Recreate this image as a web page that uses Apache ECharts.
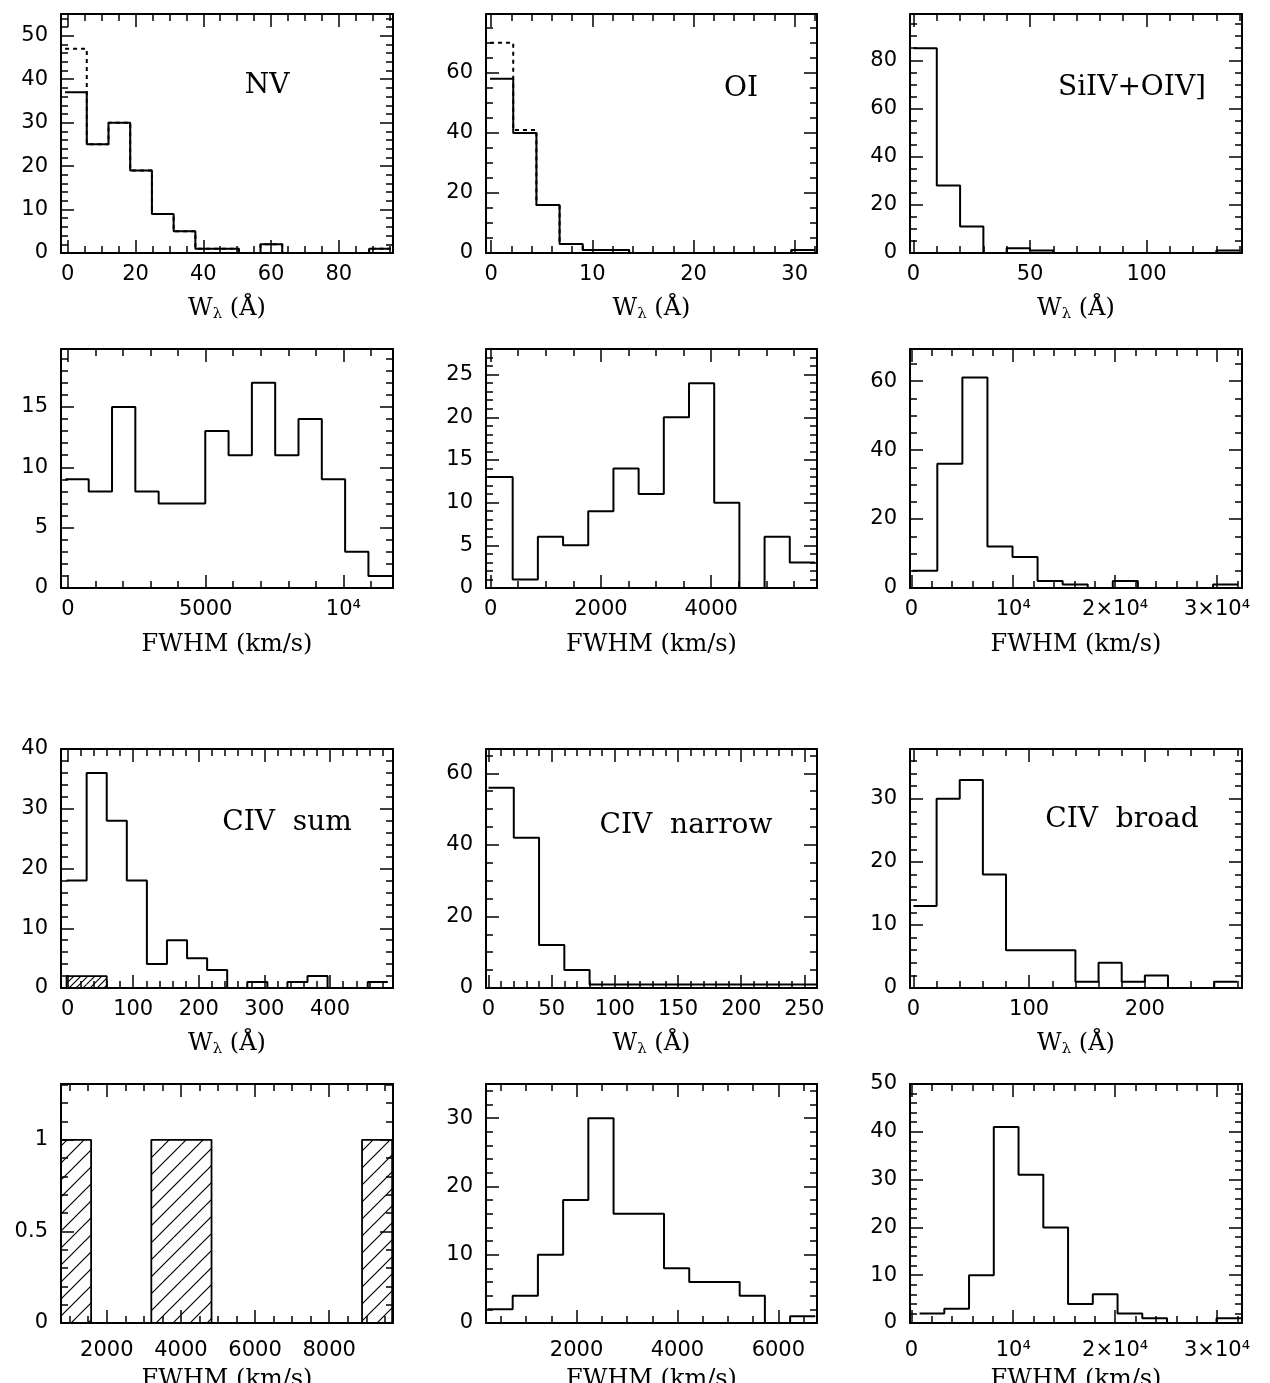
<!DOCTYPE html>
<html>
<head>
<meta charset="utf-8">
<title>Line width histograms</title>
<script src="https://cdn.jsdelivr.net/npm/echarts@6/dist/echarts.min.js"></script>
<style>
  html, body { margin: 0; padding: 0; background: #fff; }
  #chart { width: 1270px; height: 1383px; }
</style>
</head>
<body>
<div id="chart"></div>
<script>
// counts per bin
const nvW          = [37, 25, 30, 19, 9, 5, 1, 1, 0, 2, 0, 0, 0, 0, 1]
const nvWAll       = [47, 25, 30, 19, 9, 5, 1, 1, 0, 2, 0, 0, 0, 0, 1]
const oiW          = [58, 40, 16, 3, 1, 1, 0, 0, 0, 0, 0, 0, 0, 1]
const oiWAll       = [70, 41, 16, 3, 1, 1, 0, 0, 0, 0, 0, 0, 0, 1]
const siivW        = [85, 28, 11, 0, 2, 1, 0, 0, 0, 0, 0, 0, 0, 1]
const nvFwhm       = [9, 8, 15, 8, 7, 7, 13, 11, 17, 11, 14, 9, 3, 1]
const oiFwhm       = [13, 1, 6, 5, 9, 14, 11, 20, 24, 10, 0, 6, 3]
const siivFwhm     = [5, 36, 61, 12, 9, 2, 1, 0, 2, 0, 0, 0, 1]
const civSumW      = [18, 36, 28, 18, 4, 8, 5, 3, 0, 1, 0, 1, 2, 0, 0, 1]
const civSumWHatch = [2, 2]
const civNarrowW   = [56, 42, 12, 5, 1, 1, 1, 1, 1, 1, 1, 1, 1]
const civBroadW    = [13, 30, 33, 18, 6, 6, 6, 1, 4, 1, 2, 0, 0, 1]
const civSumFwhm   = [1, 0, 0, 1, 1, 0, 0, 0, 0, 0, 1]
const civNarrowFwhm = [2, 4, 10, 18, 30, 16, 16, 8, 6, 6, 4, 0, 1]
const civBroadFwhm = [2, 3, 10, 41, 31, 20, 4, 6, 2, 1, 0, 0, 1]

// bins: [first edge, bin width]
const nvWBins = [-0.8, 6.41]
const oiWBins = [-0.1, 2.29]
const siivWBins = [0, 10]
const nvFwhmBins = [-90, 846]
const oiFwhmBins = [-58, 457]
const siivFwhmBins = [90, 2460]
const civSumWBins = [-1.5, 30.6]
const civNarrowWBins = [0, 20]
const civBroadWBins = [0, 20]
const civSumFwhmBins = [765, 812]
const civNarrowFwhmBins = [233, 500]
const civBroadFwhmBins = [806, 2429]

// tick labels
const nvWXTicks = [0, 20, 40, 60, 80]
const nvWYTicks = [0, 10, 20, 30, 40, 50]
const oiWXTicks = [0, 10, 20, 30]
const oiWYTicks = [0, 20, 40, 60]
const siivWXTicks = [0, 50, 100]
const siivWYTicks = [0, 20, 40, 60, 80]
const nvFwhmXTicks = [0, 5000, 10000]
const nvFwhmYTicks = [0, 5, 10, 15]
const oiFwhmXTicks = [0, 2000, 4000]
const oiFwhmYTicks = [0, 5, 10, 15, 20, 25]
const siivFwhmXTicks = [0, 10000, 20000, 30000]
const siivFwhmYTicks = [0, 20, 40, 60]
const civSumWXTicks = [0, 100, 200, 300, 400]
const civSumWYTicks = [0, 10, 20, 30, 40]
const civNarrowWXTicks = [0, 50, 100, 150, 200, 250]
const civNarrowWYTicks = [0, 20, 40, 60]
const civBroadWXTicks = [0, 100, 200]
const civBroadWYTicks = [0, 10, 20, 30]
const civSumFwhmXTicks = [2000, 4000, 6000, 8000]
const civSumFwhmYTicks = [0, 0.5, 1]
const civNarrowFwhmXTicks = [2000, 4000, 6000]
const civNarrowFwhmYTicks = [0, 10, 20, 30]
const civBroadFwhmXTicks = [0, 10000, 20000, 30000]
const civBroadFwhmYTicks = [0, 10, 20, 30, 40, 50]

const wName = 'W{s|λ} (Å)'
const fName = 'FWHM (km/s)'

const panels = [
  { row: 0, col: 0, x: [-2, 96], xt: nvWXTicks, xm: 5, y: [0, 55], yt: nvWYTicks, ym: 2, bins: nvWBins, counts: nvW, dashed: nvWAll, label: 'NV', at: [267, 86], name: wName },
  { row: 0, col: 1, x: [-0.5, 32.2], xt: oiWXTicks, xm: 2, y: [0, 79.6], yt: oiWYTicks, ym: 5, bins: oiWBins, counts: oiW, dashed: oiWAll, label: 'OI', at: [741, 89], name: wName },
  { row: 0, col: 2, x: [-1.5, 141], xt: siivWXTicks, xm: 10, y: [0, 99.2], yt: siivWYTicks, ym: 5, bins: siivWBins, counts: siivW, label: 'SiIV+OIV]', at: [1132, 88], name: wName },
  { row: 1, col: 0, x: [-250, 11800], xt: nvFwhmXTicks, xm: 1000, y: [0, 19.8], yt: nvFwhmYTicks, ym: 1, bins: nvFwhmBins, counts: nvFwhm, name: fName },
  { row: 1, col: 1, x: [-85, 5920], xt: oiFwhmXTicks, xm: 500, y: [0, 28], yt: oiFwhmYTicks, ym: 1, bins: oiFwhmBins, counts: oiFwhm, name: fName },
  { row: 1, col: 2, x: [-130, 32450], xt: siivFwhmXTicks, xm: 2000, y: [0, 69.3], yt: siivFwhmYTicks, ym: 5, bins: siivFwhmBins, counts: siivFwhm, name: fName },
  { row: 2, col: 0, x: [-10, 496], xt: civSumWXTicks, xm: 20, y: [0, 40], yt: civSumWYTicks, ym: 2, bins: civSumWBins, counts: civSumW, hatch: civSumWHatch, hatchSize: 7, label: 'CIV  sum', at: [287, 823], name: wName },
  { row: 2, col: 1, x: [-2, 260], xt: civNarrowWXTicks, xm: 10, y: [0, 66.8], yt: civNarrowWYTicks, ym: 5, bins: civNarrowWBins, counts: civNarrowW, label: 'CIV  narrow', at: [686, 826], name: wName },
  { row: 2, col: 2, x: [-3, 284], xt: civBroadWXTicks, xm: 20, y: [0, 37.9], yt: civBroadWYTicks, ym: 2, bins: civBroadWBins, counts: civBroadW, label: 'CIV  broad', at: [1122, 820], name: wName },
  { row: 3, col: 0, x: [765, 9720], xt: civSumFwhmXTicks, xm: 500, y: [0, 1.305], yt: civSumFwhmYTicks, ym: 0.1, bins: civSumFwhmBins, hatch: civSumFwhm, hatchSize: 17, name: fName },
  { row: 3, col: 1, x: [204, 6766], xt: civNarrowFwhmXTicks, xm: 500, y: [0, 35], yt: civNarrowFwhmYTicks, ym: 2, bins: civNarrowFwhmBins, counts: civNarrowFwhm, name: fName },
  { row: 3, col: 2, x: [-130, 32450], xt: civBroadFwhmXTicks, xm: 2000, y: [0, 50], yt: civBroadFwhmYTicks, ym: 2, bins: civBroadFwhmBins, counts: civBroadFwhm, name: fName }
]

const colLeft = [61, 486, 910]
const colRight = [393, 817, 1242]
const rowTop = [14, 349, 749, 1084]
const rowBottom = [253, 588, 988, 1323]

const numFont = 'DejaVu Sans'
const textFont = 'DejaVu Serif'

const fmt = (v) => {
  if (v === 10000) return '10⁴'
  if (v >= 20000 && v % 10000 === 0) return (v / 10000) + '×10⁴'
  return String(v)
}

const minorTicks = (range, step, majors) => {
  const out = []
  for (let v = Math.ceil(range[0] / step) * step; v <= range[1] + 1e-9; v += step) {
    const r = Math.round(v * 1000) / 1000
    if (!majors.some(m => Math.abs(m - r) < 1e-6)) out.push(r)
  }
  return out
}

const hatchPattern = (size) => {
  const c = document.createElement('canvas')
  c.width = c.height = size
  const g = c.getContext('2d')
  g.strokeStyle = '#000'
  g.lineWidth = 1.2
  g.beginPath()
  g.moveTo(-1, 1); g.lineTo(1, -1)
  g.moveTo(0, size); g.lineTo(size, 0)
  g.moveTo(size - 1, size + 1); g.lineTo(size + 1, size - 1)
  g.stroke()
  return { image: c, repeat: 'repeat' }
}

const stepLine = (bins, counts) => {
  const pts = []
  counts.forEach((c, k) => {
    pts.push([bins[0] + k * bins[1], c], [bins[0] + (k + 1) * bins[1], c])
  })
  return pts
}

const makeAxis = (range, gridIndex, pos, ticks, len, showLine, label) => ({
  type: 'value',
  gridIndex,
  position: pos,
  min: range[0],
  max: range[1],
  axisLine: { show: showLine, onZero: false, lineStyle: { color: '#000', width: 2 } },
  axisTick: { show: true, inside: true, length: len, customValues: ticks, lineStyle: { color: '#000', width: 1.5 } },
  axisLabel: label || { show: false },
  splitLine: { show: false },
  minorTick: { show: false },
  minorSplitLine: { show: false }
})

const grid = []
const xAxis = []
const yAxis = []
const series = []
const graphic = []

panels.forEach((p) => {
  const box = {
    left: colLeft[p.col],
    top: rowTop[p.row],
    width: colRight[p.col] - colLeft[p.col],
    height: rowBottom[p.row] - rowTop[p.row],
    containLabel: false,
    outerBoundsMode: 'none'
  }
  const gMain = grid.length
  grid.push({ ...box }, { ...box })
  const gMinor = gMain + 1
  const xMinor = minorTicks(p.x, p.xm, p.xt)
  const yMinor = minorTicks(p.y, p.ym, p.yt)

  const xi = xAxis.length
  const yi = yAxis.length
  const bottomAxis = makeAxis(p.x, gMain, 'bottom', p.xt, 13, true, {
    customValues: p.xt, formatter: fmt, margin: p.row === 3 ? 17 : 11,
    color: '#000', fontSize: 21, fontFamily: numFont
  })
  bottomAxis.name = p.name
  bottomAxis.nameLocation = 'middle'
  bottomAxis.nameGap = p.name === wName ? 42 : 45
  bottomAxis.nameMoveOverlap = false
  bottomAxis.nameTextStyle = {
    color: '#000', fontSize: 24, fontFamily: textFont,
    rich: { s: { fontSize: 15, fontFamily: textFont, color: '#000', padding: [12, 0, 0, 0] } }
  }
  xAxis.push(
    bottomAxis,
    makeAxis(p.x, gMain, 'top', p.xt, 13, true),
    makeAxis(p.x, gMinor, 'bottom', xMinor, 7, false),
    makeAxis(p.x, gMinor, 'top', xMinor, 7, false)
  )
  yAxis.push(
    makeAxis(p.y, gMain, 'left', p.yt, 13, true, {
      customValues: p.yt, formatter: fmt, margin: 13,
      color: '#000', fontSize: 21, fontFamily: numFont
    }),
    makeAxis(p.y, gMain, 'right', p.yt, 13, true),
    makeAxis(p.y, gMinor, 'left', yMinor, 7, false),
    makeAxis(p.y, gMinor, 'right', yMinor, 7, false)
  )

  if (p.hatch) {
    // hatched fill per bin, outline drawn as one step line so touching bins merge
    const pattern = hatchPattern(p.hatchSize)
    series.push({
      type: 'custom',
      xAxisIndex: xi,
      yAxisIndex: yi,
      silent: true,
      animation: false,
      clip: true,
      z: 2,
      encode: { x: [0, 1], y: 2 },
      data: p.hatch.map((c, k) => [p.bins[0] + k * p.bins[1], p.bins[0] + (k + 1) * p.bins[1], c]),
      renderItem: (params, api) => {
        const h = api.value(2)
        if (!h) return null
        const a = api.coord([api.value(0), h])
        const b = api.coord([api.value(1), 0])
        return {
          type: 'rect',
          shape: { x: a[0], y: a[1], width: b[0] - a[0], height: b[1] - a[1] },
          style: { fill: pattern, stroke: null }
        }
      }
    })
    const outline = stepLine(p.bins, p.hatch)
    outline.unshift([p.bins[0], 0])
    outline.push([p.bins[0] + p.hatch.length * p.bins[1], 0])
    series.push({
      type: 'line', xAxisIndex: xi, yAxisIndex: yi,
      data: outline,
      symbol: 'none', silent: true, animation: false, clip: true, z: 3,
      lineStyle: { color: '#000', width: 1.8 }
    })
  }
  if (p.dashed) {
    series.push({
      type: 'line', xAxisIndex: xi, yAxisIndex: yi,
      data: stepLine(p.bins, p.dashed),
      symbol: 'none', silent: true, animation: false, clip: true, z: 2,
      lineStyle: { color: '#000', width: 2, type: [4, 4] }
    })
  }
  if (p.counts) {
    series.push({
      type: 'line', xAxisIndex: xi, yAxisIndex: yi,
      data: stepLine(p.bins, p.counts),
      symbol: 'none', silent: true, animation: false, clip: true, z: 4,
      lineStyle: { color: '#000', width: 2 }
    })
  }
  if (p.label) {
    graphic.push({
      type: 'text',
      x: p.at[0],
      y: p.at[1],
      style: {
        text: p.label,
        font: '28px "' + textFont + '"',
        fill: '#000',
        textAlign: 'center',
        textVerticalAlign: 'middle',
        align: 'center',
        verticalAlign: 'middle'
      }
    })
  }
})

const chart = echarts.init(document.getElementById('chart'), null, { renderer: 'canvas' })
chart.setOption({
  backgroundColor: '#fff',
  animation: false,
  grid,
  xAxis,
  yAxis,
  series,
  graphic
})
window.addEventListener('resize', () => chart.resize())
</script>
</body>
</html>
